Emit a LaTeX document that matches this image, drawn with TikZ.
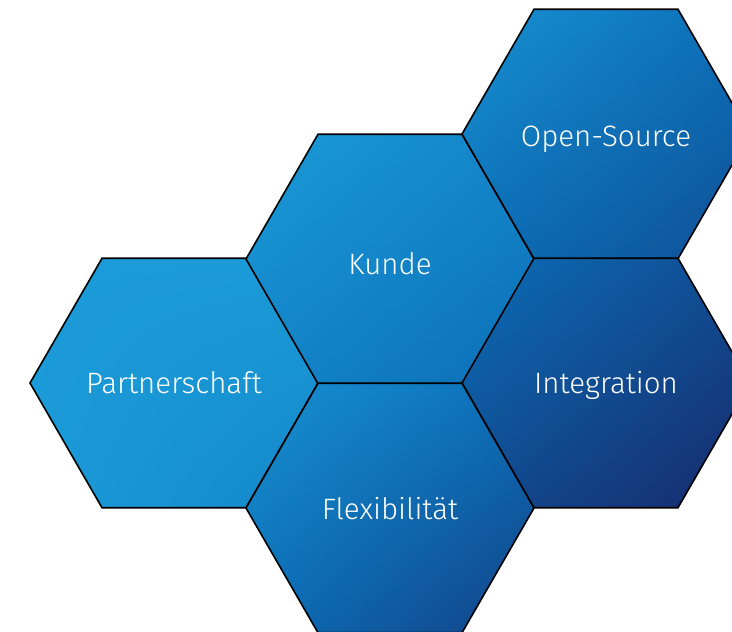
\documentclass[tikz,border=0pt]{standalone}
\usepackage{fontspec}
\setmainfont{Fira Sans Light}
\usetikzlibrary{shapes.geometric, shadings}
\definecolor{hexlight}{HTML}{1B9BD8}
\definecolor{hexmid}{HTML}{0B6EB7}
\definecolor{hexdark}{HTML}{17296B}
\tikzset{
  hexcell/.style={draw=black, line width=1.6pt, shade, regular polygon, regular polygon sides=6,
    minimum size=288pt, inner sep=0pt, text=white, text height=20.5pt, text depth=0pt,
    font=\fontsize{29.5}{32}\selectfont},
}
\begin{document}
\begin{tikzpicture}[x=1pt, y=-1pt]
    \useasboundingbox (0,0) rectangle (732,632);
    \clip (0,0) rectangle (732,632);

    % Hexagons
    \node[hexcell, upper left=hexlight, upper right=hexlight, lower left=hexlight,
        lower right=hexlight!55!hexmid] (P) at (174,383) {Partnerschaft};
    \node[hexcell, text height=30pt, upper left=hexlight, upper right=hexlight!50!hexmid,
        lower left=hexlight!50!hexmid, lower right=hexmid] (K) at (390,259) {Kunde};
    \node[hexcell, text height=25pt, upper left=hexlight!80!hexmid, upper right=hexmid,
        lower left=hexmid, lower right=hexmid!55!hexdark] (O) at (606,134) {Open-Source};
    \node[hexcell, upper left=hexmid, upper right=hexmid!50!hexdark, lower left=hexmid!50!hexdark,
        lower right=hexdark] (I) at (606,383) {Integration};
    \node[hexcell, text height=22pt, upper left=hexlight!80!hexmid, upper right=hexmid,
        lower left=hexmid, lower right=hexmid!35!hexdark] (F) at (390,508) {Flexibilität};
\end{tikzpicture}
\end{document}
